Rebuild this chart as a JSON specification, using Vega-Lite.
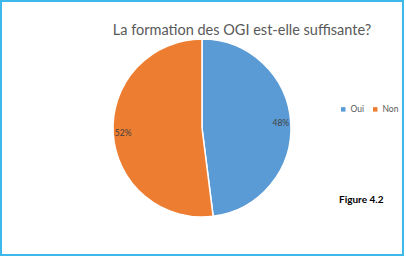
{
  "$schema": "https://vega.github.io/schema/vega-lite/v6.json",
  "width": 402,
  "height": 254,
  "padding": {"left": 1, "top": 1, "right": 3, "bottom": 5},
  "autosize": {"type": "none"},
  "background": "white",
  "view": {"stroke": "#3DB8EA", "strokeWidth": 2},
  "title": {
    "text": "La formation des OGI est-elle suffisante?",
    "anchor": "middle",
    "dx": 40,
    "offset": -48,
    "baseline": "alphabetic",
    "font": "Lato",
    "fontSize": 14.5,
    "fontWeight": "normal",
    "color": "#595959"
  },
  "data": {
    "values": [
      {"reponse": "Oui", "part": 48, "label": "48%", "ordre": 1},
      {"reponse": "Non", "part": 52, "label": "52%", "ordre": 2}
    ]
  },
  "encoding": {
    "theta": {"field": "part", "type": "quantitative", "stack": true},
    "order": {"field": "ordre", "type": "quantitative"},
    "color": {
      "field": "reponse",
      "type": "nominal",
      "sort": ["Oui", "Non"],
      "scale": {"domain": ["Oui", "Non"], "range": ["#5B9BD5", "#ED7D31"]},
      "legend": {
        "title": "Figure 4.2",
        "orient": "none",
        "legendX": 338,
        "legendY": 104,
        "direction": "horizontal",
        "symbolType": "square",
        "symbolSize": 20,
        "symbolStrokeWidth": 0,
        "labelFont": "Lato",
        "labelFontSize": 8.5,
        "labelColor": "#595959",
        "columnPadding": 6,
        "labelOffset": 3,
        "titleOrient": "bottom",
        "titlePadding": 81,
        "titleFont": "Lato",
        "titleFontSize": 10,
        "titleFontWeight": "bold",
        "titleColor": "#000000",
        "titleAnchor": "start",
        "titleAlign": "left"
      }
    }
  },
  "layer": [
    {
      "mark": {"type": "arc", "outerRadius": 89, "stroke": "white", "strokeWidth": 1.5}
    },
    {
      "mark": {"type": "text", "radius": 79, "font": "Lato", "fontSize": 8.5},
      "encoding": {
        "text": {"field": "label", "type": "nominal"},
        "color": {"value": "#404040"}
      }
    }
  ]
}
